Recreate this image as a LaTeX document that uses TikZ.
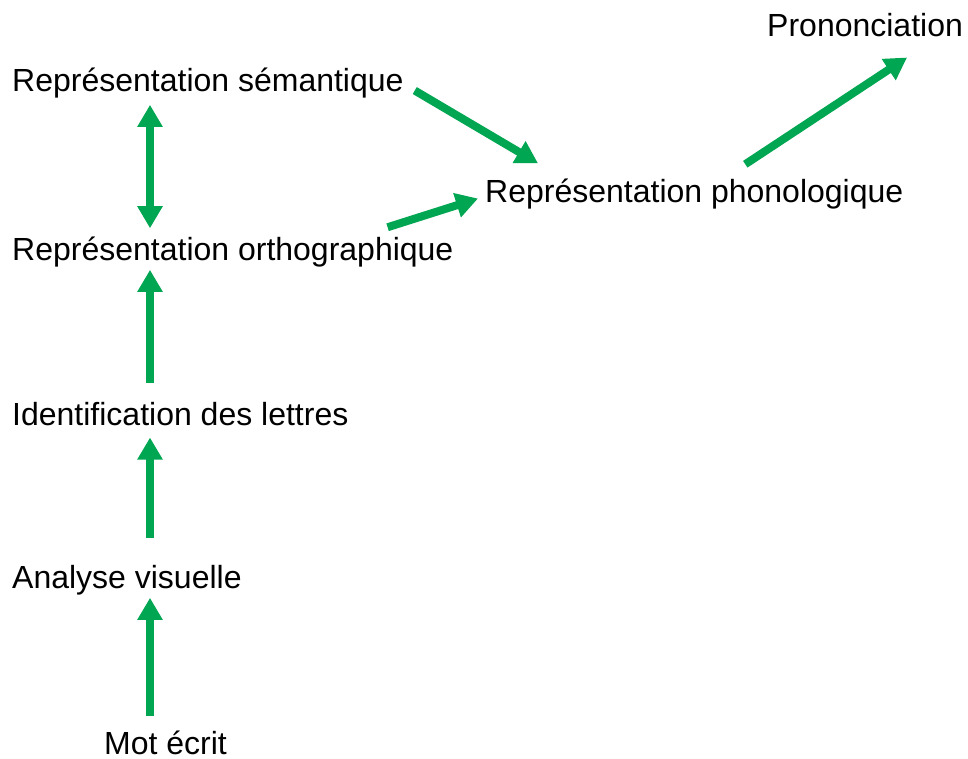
\documentclass[tikz,border=0pt]{standalone}
\usepackage{fontspec}
\setmainfont{Liberation Sans}
\usetikzlibrary{arrows.meta}
\definecolor{flowgreen}{RGB}{0,166,81}
\tikzstyle{stage}=[anchor=base west, inner sep=0pt, font=\fontsize{32}{38}\selectfont]
\tikzstyle{flow}=[draw=flowgreen, line width=8pt, -{Triangle[width=24pt,length=22pt]}]

\begin{document}
\begin{tikzpicture}[x=1pt, y=-1pt]
    \useasboundingbox (0,0) rectangle (968,758);
    \coordinate (spine) at (150,0);
    % stages of reading
    \node [stage] (sem) at (12,91) {Représentation sémantique};
    \node [stage] (ortho) at (12,260) {Représentation orthographique};
    \node [stage] (ident) at (12,425) {Identification des lettres};
    \node [stage] (analyse) at (12,588) {Analyse visuelle};
    \node [stage] (mot) at (104,754) {Mot écrit};
    \node [stage] (phon) at (485,202) {Représentation phonologique};
    \node [stage] (pron) at (767,36) {Prononciation};
    % arrows
    \draw [flow] ([yshift=14pt]mot.north -| spine) -- ([yshift=-3pt]analyse.south -| spine);
    \draw [flow] ([yshift=27pt]analyse.north -| spine) -- ([yshift=-12pt]ident.south -| spine);
    \draw [flow] ([yshift=19pt]ident.north -| spine) -- ([yshift=-3pt]ortho.south -| spine);
    \draw [flow, {Triangle[width=24pt,length=22pt]}-{Triangle[width=24pt,length=22pt]}]
        ([yshift=8pt]ortho.north -| spine) -- ([yshift=-7pt]sem.south -| spine);
    \draw [flow] ([xshift=11pt,yshift=-8pt]sem.east) -- ([xshift=53pt,yshift=15pt]phon.north west);
    \draw [flow] ([xshift=-66pt,yshift=9pt]ortho.north east) -- ([xshift=-7pt,yshift=-5pt]phon.west);
    \draw [flow] ([xshift=51pt,yshift=14pt]phon.north) -- ([xshift=42pt,yshift=-21pt]pron.south);
\end{tikzpicture}
\end{document}
